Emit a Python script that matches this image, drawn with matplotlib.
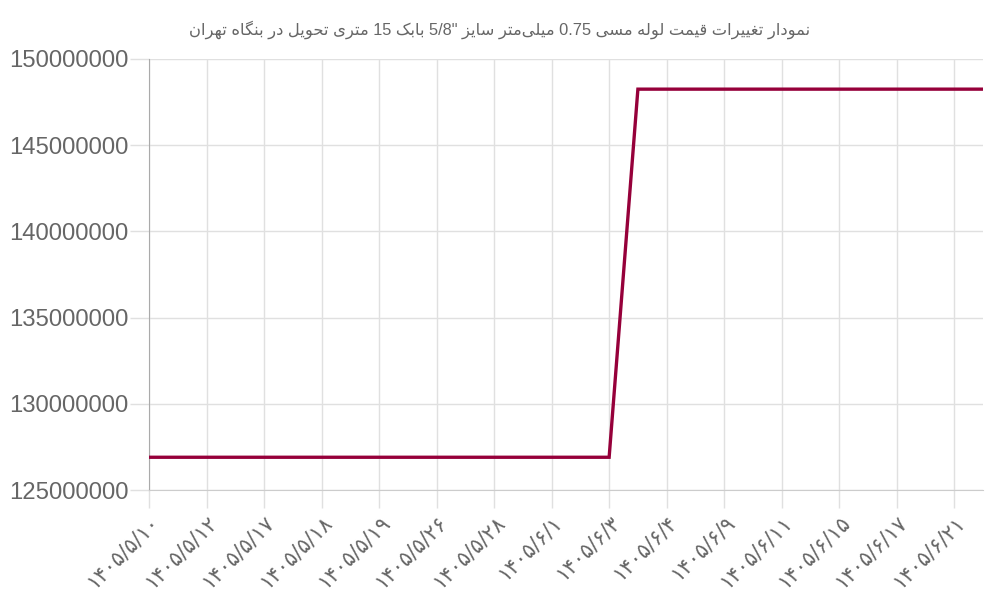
import re
import numpy as np
import matplotlib
matplotlib.use("Agg")
import matplotlib.pyplot as plt
from matplotlib.ticker import FuncFormatter, MultipleLocator

"""
    Data
"""
title = 'نمودار تغییرات قیمت لوله مسی 0.75 میلی\u200cمتر سایز "5/8 بابک 15 متری تحویل در بنگاه تهران'

# every second date is labelled on the axis (30 points in total)
tick_labels = [
    "۱۴۰۵/۵/۱۰", "۱۴۰۵/۵/۱۲", "۱۴۰۵/۵/۱۷", "۱۴۰۵/۵/۱۸", "۱۴۰۵/۵/۱۹",
    "۱۴۰۵/۵/۲۶", "۱۴۰۵/۵/۲۸", "۱۴۰۵/۶/۱", "۱۴۰۵/۶/۳", "۱۴۰۵/۶/۴",
    "۱۴۰۵/۶/۹", "۱۴۰۵/۶/۱۱", "۱۴۰۵/۶/۱۵", "۱۴۰۵/۶/۱۷", "۱۴۰۵/۶/۲۱",
]
prices = [126900000] * 17 + [148250000] * 13

"""
    Minimal Persian shaping + right-to-left ordering
    (matplotlib draws glyphs one by one, left to right)
"""
# isolated, final, initial, medial
FORMS = {
    "ا": ("\ufe8d", "\ufe8e", None, None),
    "ب": ("\ufe8f", "\ufe90", "\ufe91", "\ufe92"),
    "ت": ("\ufe95", "\ufe96", "\ufe97", "\ufe98"),
    "ح": ("\ufea1", "\ufea2", "\ufea3", "\ufea4"),
    "د": ("\ufea9", "\ufeaa", None, None),
    "ر": ("\ufead", "\ufeae", None, None),
    "ز": ("\ufeaf", "\ufeb0", None, None),
    "س": ("\ufeb1", "\ufeb2", "\ufeb3", "\ufeb4"),
    "غ": ("\ufecd", "\ufece", "\ufecf", "\ufed0"),
    "ق": ("\ufed5", "\ufed6", "\ufed7", "\ufed8"),
    "ل": ("\ufedd", "\ufede", "\ufedf", "\ufee0"),
    "م": ("\ufee1", "\ufee2", "\ufee3", "\ufee4"),
    "ن": ("\ufee5", "\ufee6", "\ufee7", "\ufee8"),
    "ه": ("\ufee9", "\ufeea", "\ufeeb", "\ufeec"),
    "و": ("\ufeed", "\ufeee", None, None),
    "ک": ("\ufb8e", "\ufb8f", "\ufb90", "\ufb91"),
    "گ": ("\ufb92", "\ufb93", "\ufb94", "\ufb95"),
    "ی": ("\ufbfc", "\ufbfd", "\ufbfe", "\ufbff"),
}


def shape(text):
    out = []
    for i, c in enumerate(text):
        if c not in FORMS:
            if c != "\u200c":
                out.append(c)
            continue
        prev = text[i - 1] if i > 0 else None
        nxt = text[i + 1] if i + 1 < len(text) else None
        joins_prev = prev in FORMS and FORMS[prev][2] is not None
        joins_next = nxt in FORMS and FORMS[c][2] is not None
        iso, fin, ini, med = FORMS[c]
        if joins_prev and joins_next:
            out.append(med)
        elif joins_prev:
            out.append(fin)
        elif joins_next:
            out.append(ini)
        else:
            out.append(iso)
    # reverse the whole line, then put number runs back in reading order
    visual = "".join(reversed(out))
    return re.sub(r"[0-9][0-9./]*[0-9]|[0-9]", lambda m: m.group(0)[::-1], visual)


"""
    Plot
"""
grid_color = "#e0e0e0"
text_color = "#666666"

fig = plt.figure(figsize=(10, 6), dpi=100)
ax = fig.add_axes([0.149, 0.1833, 0.834, 0.7184])

x = np.arange(len(prices))
ax.plot(x, prices, color="#96003a", linewidth=2.4, solid_joinstyle="miter", zorder=3)

ax.set_xlim(0, len(prices) - 1)
ax.set_ylim(125000000, 150000000)
ax.yaxis.set_major_locator(MultipleLocator(5000000))
ax.yaxis.set_major_formatter(FuncFormatter(lambda v, p: "%d" % v))

ax.set_xticks(x[::2])
ax.set_xticklabels(tick_labels, rotation=45, ha="right", rotation_mode="anchor",
                   fontsize=15, color=text_color, family=["DejaVu Sans"])

for lab in ax.get_yticklabels():
    lab.set_family(["Liberation Sans", "DejaVu Sans"])
ax.tick_params(axis="y", labelsize=17.2, labelcolor=text_color, length=14,
               color=grid_color, width=1, pad=1)
ax.tick_params(axis="x", length=13, color=grid_color, width=1, pad=3)

ax.grid(True, color=grid_color, linewidth=1)
ax.set_axisbelow(True)
for side in ["top", "right"]:
    ax.spines[side].set_visible(False)
ax.spines["left"].set_color("#aaaaaa")
ax.spines["bottom"].set_color("#cccccc")

fig.text(0.5, 0.95, shape(title), ha="center", va="center", fontsize=11.8,
         color=text_color, family=["Liberation Sans", "DejaVu Sans"])

fig.savefig("out.png", dpi=100)
